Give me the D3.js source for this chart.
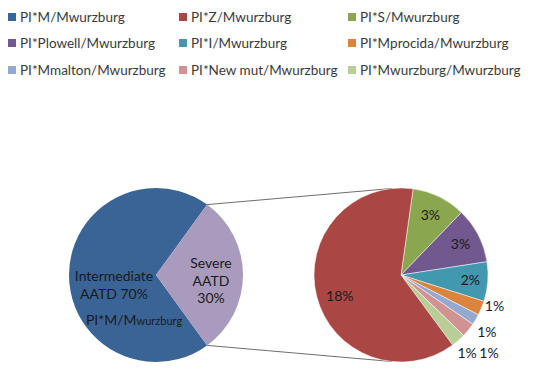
<!DOCTYPE html>
<html>
<head>
<meta charset="utf-8">
<script src="https://cdn.jsdelivr.net/npm/d3@7"></script>
<style>
  body { margin: 0; background: #fff; }
  text { font-family: Lato, "Open Sans", sans-serif; }
</style>
</head>
<body>
<script>
let width = 550;
let height = 371;

// main pie
let mainNames = ['Intermediate', 'Severe'];
let mainValues = [70, 30];
let mainColors = ['#3a6496', '#a99bbd'];

// breakdown of the severe slice (percent of total)
let subNames = ['PI*S/Mwurzburg', 'PI*Plowell/Mwurzburg', 'PI*I/Mwurzburg', 'PI*Mprocida/Mwurzburg',
  'PI*Mmalton/Mwurzburg', 'PI*New mut/Mwurzburg', 'PI*Mwurzburg/Mwurzburg', 'PI*Z/Mwurzburg'];
let subValues = [3.0, 3.1, 2.2, 0.8, 0.6, 0.8, 0.8, 18.7];
let subLabels = ['3%', '3%', '2%', '1%', '1%', '1%', '1%', '18%'];
let subColors = ['#8aa64f', '#71588f', '#4198af', '#db843d', '#93a9cf', '#d19392', '#b9cd96', '#aa4643'];

// legend order as in the chart
let legendNames = ['PI*M/Mwurzburg', 'PI*Z/Mwurzburg', 'PI*S/Mwurzburg',
  'PI*Plowell/Mwurzburg', 'PI*I/Mwurzburg', 'PI*Mprocida/Mwurzburg',
  'PI*Mmalton/Mwurzburg', 'PI*New mut/Mwurzburg', 'PI*Mwurzburg/Mwurzburg'];
let legendColors = ['#3a6496', '#aa4643', '#8aa64f', '#71588f', '#4198af', '#db843d', '#93a9cf', '#d19392', '#b9cd96'];

let svg = d3.select('body').append('svg')
  .attr('width', width).attr('height', height);

let deg = Math.PI / 180;
let r = 87;
let c1 = {x: 156, y: 275};
let c2 = {x: 401, y: 275};

// legend
let legend = svg.append('g');
let colX = [8, 179, 348];
let rowY = [17, 43, 70];
legendNames.forEach((name, i) => {
  let g = legend.append('g')
    .attr('transform', `translate(${colX[i % 3]},${rowY[Math.floor(i / 3)]})`);
  g.append('rect').attr('x', 0).attr('y', -4).attr('width', 8).attr('height', 8)
    .attr('fill', legendColors[i]);
  g.append('text').attr('x', 12).attr('y', 5)
    .attr('font-size', 13.5).attr('fill', '#3a3a3a').text(name);
});

// connector lines
let leftTop = 36 * deg, leftBot = 144 * deg;
let rightTop = -6 * deg, rightBot = 186 * deg;
let pt = (c, a) => [c.x + r * Math.sin(a), c.y - r * Math.cos(a)];
[[leftTop, rightTop], [leftBot, rightBot]].forEach(([a, b]) => {
  let p1 = pt(c1, a), p2 = pt(c2, b);
  svg.append('line')
    .attr('x1', p1[0]).attr('y1', p1[1]).attr('x2', p2[0]).attr('y2', p2[1])
    .attr('stroke', '#6e6e6e').attr('stroke-width', 1);
});

let arc = d3.arc().innerRadius(0).outerRadius(r);

// main pie: severe slice centred on the right
let mainPie = d3.pie().sort(null).startAngle(leftBot).endAngle(leftBot + 2 * Math.PI);
let g1 = svg.append('g').attr('transform', `translate(${c1.x},${c1.y})`);
g1.selectAll('path').data(mainPie(mainValues)).enter().append('path')
  .attr('d', arc).attr('fill', (d, i) => mainColors[i]);

let labelStyle = (sel) => sel.attr('font-size', 14).attr('fill', '#1a1a1a').attr('text-anchor', 'middle');
g1.append('text').call(labelStyle).attr('x', -42).attr('y', 6).text('Intermediate');
g1.append('text').call(labelStyle).attr('x', -42).attr('y', 24).text('AATD 70%');
let pm = g1.append('text').call(labelStyle).attr('x', -22).attr('y', 50);
pm.append('tspan').text('PI*M/M');
pm.append('tspan').attr('font-size', 11).text('wurzburg');
g1.append('text').call(labelStyle).attr('x', 55).attr('y', -7).text('Severe');
g1.append('text').call(labelStyle).attr('x', 55).attr('y', 11).text('AATD');
g1.append('text').call(labelStyle).attr('x', 55).attr('y', 28).text('30%');

// secondary pie
let subPie = d3.pie().sort(null).startAngle(8 * deg).endAngle(368 * deg);
let g2 = svg.append('g').attr('transform', `translate(${c2.x},${c2.y})`);
let subArcs = subPie(subValues);
g2.selectAll('path').data(subArcs).enter().append('path')
  .attr('d', arc).attr('fill', (d, i) => subColors[i])
  .attr('stroke', '#fff').attr('stroke-width', 0.5);

// label positions: radius factor along mid angle, then a small nudge
let labelR = [0.77, 0.77, 0.8, 1.1, 1.19, 1.35, 1.17, 0.75];
let labelShift = [[0, 0], [0, 0], [0, 0], [5, -5], [-3, 4], [-3, 4], [-1, 1], [2, 5]];
subArcs.forEach((d, i) => {
  let a = (d.startAngle + d.endAngle) / 2;
  let rr = r * labelR[i];
  g2.append('text').call(labelStyle)
    .attr('x', rr * Math.sin(a) + labelShift[i][0])
    .attr('y', -rr * Math.cos(a) + labelShift[i][1] + 5)
    .text(subLabels[i]);
});
</script>
</body>
</html>
